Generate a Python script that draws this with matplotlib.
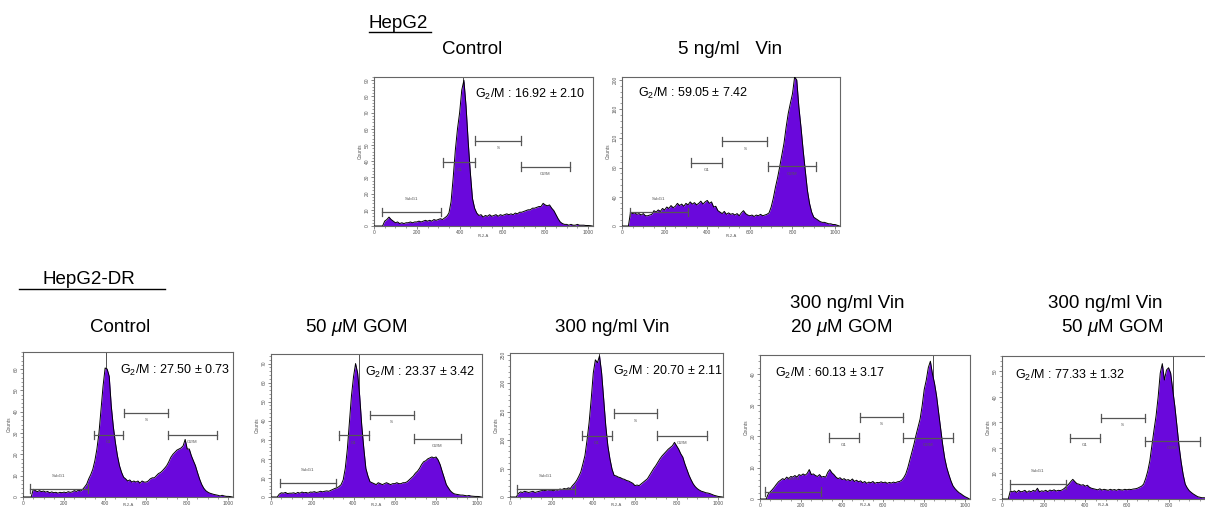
import numpy as np
import matplotlib
matplotlib.use("Agg")
import matplotlib.pyplot as plt
from matplotlib.ticker import MultipleLocator, AutoMinorLocator
import matplotlib.transforms as mtransforms

plt.rcParams['font.family'] = ['Liberation Sans', 'DejaVu Sans']
plt.rcParams['mathtext.fontset'] = 'custom'
plt.rcParams['mathtext.rm'] = 'Liberation Sans'
plt.rcParams['mathtext.it'] = 'Liberation Sans:italic'

# ---------------- data ----------------
CHANNELS = np.arange(0, 1030, 10)

HEPG2_CONTROL = [
    0, 0, 0, 0, 0, 3, 4, 5.5, 4, 3,
    2, 2.5, 1.5, 2, 1.5, 2, 2, 2.5, 2, 2.5,
    2.5, 3, 2.5, 3, 3.5, 3, 3.5, 3, 4, 3.5,
    4, 4.5, 4, 5, 6, 8, 15, 30, 47, 60,
    70, 84, 90, 74, 52, 33, 17, 11, 8, 6.5,
    7, 5.5, 6.5, 6, 7, 6, 6.5, 7, 6, 7,
    6.5, 7, 7.5, 7, 7.5, 7, 8, 7.5, 8.5, 8.5,
    9, 9.5, 10, 10, 11, 11, 11.5, 12, 12, 14,
    13, 12.5, 13, 11, 9.5, 7, 4.5, 2.5, 1.5, 1,
    1, 0.5, 1, 0.5, 0.5, 1, 0.5, 0.5, 0.5, 0.3,
    0.3, 0.2, 0]

HEPG2_VIN5 = [
    0, 0, 0, 0, 19, 17, 18, 16, 17, 15,
    17, 14, 14, 15, 16, 21, 19, 22, 20, 24,
    22, 26, 24, 28, 25, 27, 31, 28, 30, 27,
    31, 29, 33, 30, 32, 29, 31, 34, 30, 33,
    35, 31, 33, 26, 27, 21, 19, 17, 20, 16,
    18, 16, 17, 15, 17, 14, 18, 21, 17, 15,
    14, 15, 13, 15, 14, 16, 14, 15, 16, 18,
    26, 38, 53, 66, 81, 97, 113, 135, 154, 168,
    181, 204, 200, 163, 135, 104, 76, 49, 31, 19,
    12, 10, 8, 6, 5, 5, 4, 3, 3, 2,
    2, 1, 0]

DR_CONTROL = [
    0, 0, 0, 0, 0, 3.6, 3, 2.5, 3, 2.5,
    2.8, 2.3, 2.6, 2, 2.4, 2, 2.2, 1.8, 2.2, 2,
    2.3, 2, 2.5, 2.2, 2.4, 3, 2.6, 3.2, 2.8, 3.5,
    4.7, 6, 8.5, 10.5, 13, 17, 22.5, 30, 41, 52,
    60.5, 60, 56.6, 42.7, 33, 25.6, 19.4, 14.7, 11.6, 9.3,
    8.5, 7.5, 8, 7, 7.5, 7, 7.5, 6.5, 7.5, 7,
    7, 7.5, 8.5, 9, 9, 10, 11, 11.5, 12.4, 13.5,
    14.7, 16.5, 18.6, 20, 21, 22, 22.5, 23, 24, 27,
    22.5, 22.5, 19.4, 17, 14.7, 11.5, 8.5, 6, 4.2, 3,
    2.3, 1.8, 1.5, 1.2, 1, 0.8, 0.5, 0.8, 0.5, 0.3,
    0.3, 0.2, 0]

DR_GOM50 = [
    0, 0, 0, 0, 1.5, 2.2, 2, 2.4, 1.8, 2,
    2, 2.2, 1.8, 2.4, 2, 2.6, 2.2, 2.4, 2, 2.6,
    2.5, 2.8, 2.4, 2.6, 3, 2.7, 3, 3.2, 3, 3.5,
    4, 4.5, 4.8, 5.5, 6.5, 9, 15, 25, 39, 53,
    63, 70, 65, 53, 37.5, 25.5, 15, 11, 8, 7.5,
    7, 6.5, 7.5, 7, 6.5, 7, 7.5, 7, 6.5, 7,
    7, 7.5, 7, 7, 7.5, 7.5, 8, 9, 10, 11,
    12.5, 13.5, 15, 17, 18.5, 19, 20, 20.5, 21, 20.5,
    21, 19.5, 17, 13.4, 10, 6.5, 4.8, 3.2, 2.2, 1.6,
    1.4, 1.2, 1, 1, 0.8, 0.6, 0.8, 0.5, 0.4, 0.3,
    0.3, 0.2, 0]

DR_VIN300 = [
    0, 0, 0, 0, 6, 9, 8, 10, 9, 8,
    9, 10, 8, 9, 10, 11, 12, 11, 13, 12,
    12, 11, 13, 12, 14, 13, 15, 14, 16, 15,
    20, 24, 29, 36, 44, 58, 73, 100, 131, 172,
    218, 241, 236, 248, 218, 172, 125, 90, 67, 49,
    38, 37, 35, 34, 32, 31, 29, 28, 26, 24,
    20, 21, 20, 23, 26, 29, 32, 38, 44, 50,
    55, 61, 67, 72, 76, 80, 84, 87, 90, 96,
    90, 84, 76, 70, 58, 48, 38, 30, 23, 18,
    14.5, 12, 10, 9, 7.5, 7, 6, 4.5, 3, 2,
    1, 0.5, 0]

DR_VIN300_GOM20 = [
    0, 0, 0, 0, 1.6, 2.3, 3, 3.8, 4.7, 5.5,
    6, 6.5, 6.2, 7, 6.5, 7.2, 7, 7.5, 7, 7.8,
    7.5, 8, 7.6, 8.2, 9.4, 7.8, 8, 7.5, 7.2, 7.8,
    7, 7.2, 7, 8.5, 9.4, 8.4, 7.8, 7, 6.5, 6.8,
    6.2, 6.5, 6, 6.2, 5.8, 6.4, 5.6, 6, 5.5, 5.8,
    5.2, 5.6, 5, 5.4, 5.2, 5.6, 5, 5.3, 5.2, 5.5,
    5.2, 5.4, 5, 5.3, 5.1, 5.4, 5.2, 5.5, 5.6, 6,
    6.8, 8, 10, 12.5, 15, 17.5, 20.4, 23, 25.6, 29.8,
    35, 38, 42, 44, 40, 37, 33, 27.7, 22.5, 17.3,
    13, 10, 7.8, 5.8, 4.2, 3.3, 2.6, 2, 1.6, 1.1,
    0.7, 0.4, 0]

DR_VIN300_GOM50 = [
    0, 0, 0, 0, 3.2, 2.8, 3.2, 2.6, 3.4, 2.8,
    3, 3.4, 2.6, 3.2, 2.8, 3.4, 3, 4.2, 2.8, 3.2,
    3, 3.4, 2.9, 3.5, 3.2, 3.6, 3.1, 3.4, 3.3, 3.6,
    4.2, 5, 5.8, 6.8, 7.7, 6.8, 6, 5.8, 5.4, 5.6,
    5, 5.4, 4.6, 4.2, 4, 3.8, 3.6, 4, 3.5, 3.8,
    3.6, 3.4, 3.8, 3.5, 3.7, 3.4, 3.8, 3.6, 3.5, 3.8,
    3.6, 3.8, 3.7, 3.9, 4, 4.2, 4.6, 5, 5.8, 8,
    10.9, 15, 21, 27, 32.6, 40, 49.3, 53, 46.6, 50.5,
    51.4, 49.3, 42.8, 36.4, 28.8, 21, 14.7, 9.6, 5.8, 4.3,
    3.2, 2.5, 1.9, 1.4, 0.9, 0.7, 0.5, 0.5, 0.4, 0.3,
    0.3, 0.2, 0]

G2M_LABELS = ["16.92 ± 2.10", "59.05 ± 7.42", "27.50 ± 0.73", "23.37 ± 3.42",
              "20.70 ± 2.11", "60.13 ± 3.17", "77.33 ± 1.32"]

GATE_NAMES = ["SubG1", "G1", "S", "G2/M"]
# gate channel ranges per panel: (start, end) for SubG1, G1, S, G2/M
GATE_RANGES = [
    [(39, 311), (323, 474), (474, 686), (686, 914)],
    [(36, 310), (323, 471), (471, 681), (684, 910)],
    [(32, 315), (344, 488), (494, 707), (704, 944)],
    [(42, 315), (329, 475), (478, 692), (692, 923)],
    [(32, 310), (346, 490), (498, 707), (707, 948)],
    [(24, 298), (335, 481), (487, 698), (698, 940)],
    [(37, 309), (325, 472), (474, 685), (688, 949)],
]
CURSOR_CHANNEL = [415, 812, 406, 425, 428, 843, 823]

SERIES = [HEPG2_CONTROL, HEPG2_VIN5, DR_CONTROL, DR_GOM50, DR_VIN300,
          DR_VIN300_GOM20, DR_VIN300_GOM50]

# ---------------- layout ----------------
W, H = 1205, 509
fig = plt.figure(figsize=(W / 100, H / 100), dpi=100)
fig.patch.set_facecolor('white')

def rect(L, R, T, B):
    return [L / W, 1 - B / H, (R - L) / W, (B - T) / H]

# axes pixel boxes (L, R, T, B)
BOXES = [(374, 593, 77, 226), (622, 840, 77, 226),
         (23, 233, 352, 497), (271, 482, 354, 497), (510, 723, 353, 497),
         (760, 970, 355, 499), (1002, 1215, 356, 499)]
YMAX = [92, 204, 68, 75, 253, 46, 56]
YSTEP = [10, 40, 10, 10, 50, 10, 10]
GATE_Y = [[0.094, 0.427, 0.571, 0.398], [0.094, 0.425, 0.568, 0.40],
          [0.057, 0.427, 0.58, 0.427], [0.099, 0.431, 0.573, 0.408],
          [0.053, 0.425, 0.58, 0.425], [0.052, 0.425, 0.568, 0.425],
          [0.103, 0.427, 0.566, 0.404]]
ANNOT = [(475, 94), (638, 93), (120, 370), (365, 372), (613, 371), (775, 373), (1015, 375)]

FILL = '#6a08dc'
GREY = '#555555'

for i, (box, vals) in enumerate(zip(BOXES, SERIES)):
    ax = fig.add_axes(rect(*box))
    ax.set_xlim(0, 1023)
    ax.set_ylim(0, YMAX[i])
    ax.axvline(CURSOR_CHANNEL[i], color='#333333', lw=0.6, zorder=1)
    ax.fill_between(CHANNELS, vals, 0, color=FILL, lw=0, zorder=2)
    ax.plot(CHANNELS, vals, color='black', lw=0.7, zorder=3)
    for s in ax.spines.values():
        s.set_color('#666666')
        s.set_linewidth(0.8)
    ax.xaxis.set_major_locator(MultipleLocator(200))
    ax.xaxis.set_minor_locator(AutoMinorLocator(4))
    ax.yaxis.set_major_locator(MultipleLocator(YSTEP[i]))
    ax.yaxis.set_minor_locator(AutoMinorLocator(5))
    ax.tick_params(which='major', length=2.2, width=0.5, colors='#555555',
                   labelsize=3.5, pad=1)
    ax.tick_params(which='minor', length=1.2, width=0.4, colors='#555555')
    if box[1] > W:
        # rightmost panel runs past the figure edge; drop the clipped label
        ax.set_xticks([0, 200, 400, 600, 800, 1000])
        ax.set_xticklabels(['0', '200', '400', '600', '800', ''])
    for lab in ax.get_yticklabels():
        lab.set_rotation(90)
        lab.set_va('center')
    ax.set_ylabel('Counts', fontsize=3.5, color='#555555', labelpad=1)
    B = box[3]
    ly_px = min(B + 10, 505)
    fig.text((box[0] + min(box[1], W)) / 2 / W, 1 - ly_px / H, 'FL2-A', fontsize=3,
             color='#555555', ha='center', va='center')

    trans = mtransforms.blended_transform_factory(ax.transData, ax.transAxes)
    for g, name in enumerate(GATE_NAMES):
        x0, x1 = GATE_RANGES[i][g]
        y = GATE_Y[i][g]
        ax.plot([x0, x1], [y, y], color=GREY, lw=0.9, transform=trans, zorder=4)
        for xx in (x0, x1):
            ax.plot([xx, xx], [y - 0.03, y + 0.03], color=GREY, lw=0.9,
                    transform=trans, zorder=4)
        ly = y + 0.09 if name == 'SubG1' else y - 0.05
        ax.text((x0 + x1) / 2, ly, name, transform=trans, fontsize=3.2,
                color=GREY, ha='center', va='center', zorder=5)

    ax_x, ax_y = ANNOT[i]
    fig.text(ax_x / W, 1 - ax_y / H, r'G$_{2}$/M : ' + G2M_LABELS[i],
             fontsize=9, ha='left', va='center', color='black')

# ---------------- titles ----------------
def ftext(x, y, s, **kw):
    return fig.text(x / W, 1 - y / H, s, va='center', fontsize=13.5, **kw)

ftext(369, 23, 'HepG2', ha='left')
fig.add_artist(plt.Line2D([369 / W, 431 / W], [1 - 32 / H, 1 - 32 / H],
                          color='black', lw=1.0))
ftext(472, 50, 'Control', ha='center')
ftext(730, 50, '5 ng/ml   Vin', ha='center')

ftext(42, 279, 'HepG2-DR', ha='left')
fig.add_artist(plt.Line2D([19 / W, 165 / W], [1 - 289 / H, 1 - 289 / H],
                          color='black', lw=1.0))
ftext(120, 327, 'Control', ha='center')
ftext(356, 327, r'50 $\mu$M GOM', ha='center')
ftext(612, 327, '300 ng/ml Vin', ha='center')
ftext(790, 304, '300 ng/ml Vin', ha='left')
ftext(790, 327, r'20 $\mu$M GOM', ha='left')
ftext(1105, 304, '300 ng/ml Vin', ha='center')
ftext(1112, 327, r'50 $\mu$M GOM', ha='center')

fig.savefig('out.png', dpi=100, facecolor='white')
